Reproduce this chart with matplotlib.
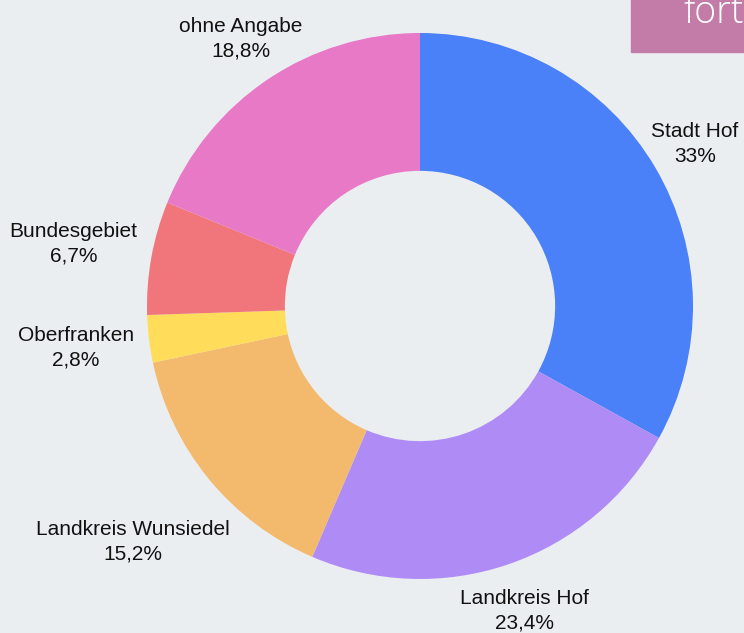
import numpy as np
import matplotlib
matplotlib.use("Agg")
import matplotlib.pyplot as plt
from matplotlib.patches import Rectangle

categories = ["Stadt Hof", "Landkreis Hof", "Landkreis Wunsiedel",
              "Oberfranken", "Bundesgebiet", "ohne Angabe"]
values = [33.0, 23.4, 15.2, 2.8, 6.7, 18.8]
value_labels = ["33%", "23,4%", "15,2%", "2,8%", "6,7%", "18,8%"]
colors = ["#4a80f8", "#af8cf5", "#f3b96c", "#ffdc5a", "#f0767c", "#e879c6"]

# label distance from centre (in radii), per slice
label_r = [1.17, 1.18, 1.36, 1.27, 1.29, 1.18]

bg = "#ebeef1"
plt.rcParams["font.family"] = ["Liberation Sans", "DejaVu Sans"]

fig = plt.figure(figsize=(7.44, 6.33), dpi=100, facecolor=bg)
ax = fig.add_axes([0, 0, 1, 1])
ax.set_facecolor(bg)

wedges, _ = ax.pie(values, colors=colors, startangle=90, counterclock=False,
                   radius=1.0, wedgeprops=dict(width=0.505, linewidth=0))

total = sum(values)
start = 90.0
for i, v in enumerate(values):
    mid = np.deg2rad(start - v / total * 360 / 2)
    start -= v / total * 360
    x = label_r[i] * np.cos(mid)
    y = label_r[i] * np.sin(mid)
    ax.text(x, y, categories[i] + "\n" + value_labels[i], ha="center",
            va="center", fontsize=15, color="#111111", linespacing=1.4,
            multialignment="center")

ax.set_xlim(-420 / 273, 324 / 273)
ax.set_ylim(-327 / 273, 306 / 273)
ax.set_aspect("equal")
ax.axis("off")

# cropped header box at top right
fig.patches.append(Rectangle((631 / 744, 1 - 52 / 633), 1, 1,
                             transform=fig.transFigure, color="#c27ca7",
                             zorder=5))
fig.text(683 / 744, 1 - 23 / 633, "fort", color="white", fontsize=27,
         family="Open Sans", fontweight="light", va="baseline", zorder=6)

fig.savefig("out.png", dpi=100, facecolor=bg)
